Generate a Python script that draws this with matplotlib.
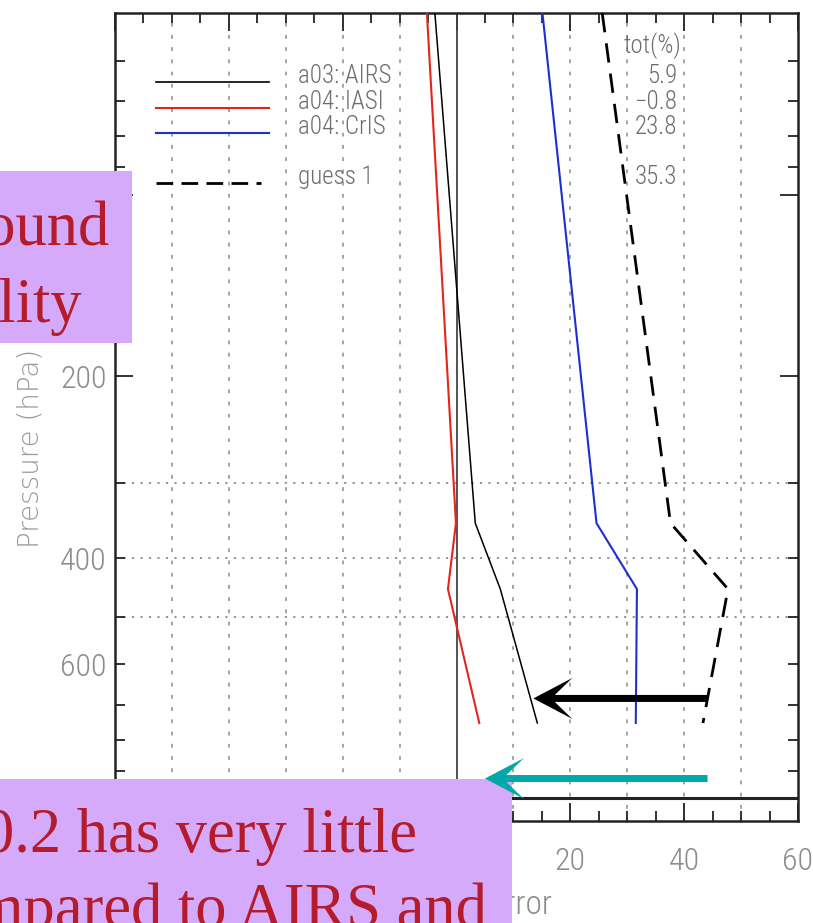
import matplotlib
matplotlib.use('Agg')
import matplotlib.pyplot as plt
from matplotlib.patches import Rectangle, FancyArrow
from matplotlib.transforms import IdentityTransform

# niveles de presion (hPa) y cambio del error por sensor
niveles = [50, 350, 450, 750]
airs = [-3.8, 3.3, 7.7, 14.2]
iasi = [-5.2, -0.1, -1.5, 4.0]
cris = [15.1, 24.6, 31.7, 31.5]
guess = [25.6, 37.6, 47.7, 43.3]

etiquetas = ['a03: AIRS', 'a04: IASI', 'a04: CrIS', 'guess 1']
totales = ['5.9', '\u22120.8', '23.8', '35.3']
colores = ['black', '#e3261c', '#1e2fd0', 'black']

x_ticks = [-60, -40, -20, 0, 20, 40, 60]
x_grid = [-50, -40, -30, -20, -10, 10, 20, 30, 40, 50]
p_major = [100, 200, 1000]
p_minor = [60, 70, 80, 90, 300, 400, 500, 600, 700, 800, 900]
p_grid = [300, 400, 500]

GRIS = '#8c8c8c'
ROJO = '#b51c2b'
LILA = '#d5aafb'
TEAL = '#00a9a8'

plt.rcParams['font.family'] = ['Roboto Condensed', 'Roboto', 'DejaVu Sans']
plt.rcParams['font.stretch'] = 'condensed'
plt.rcParams['font.weight'] = 'light'


def flecha(fig, ax, x_ini, x_fin, p, color):
    (px0, py), (px1, _) = ax.transData.transform([(x_ini, p), (x_fin, p)])
    fig.add_artist(FancyArrow(px0, py, px1 - px0, 0, width=7, head_width=41,
                              head_length=39, overhang=0.45, length_includes_head=True,
                              color=color, lw=0, transform=IdentityTransform(), zorder=20))


def main():
    fig = plt.figure(figsize=(8.13, 9.23), dpi=100)
    ax = fig.add_axes([115/813, 1 - 821/923, 683/813, 808/923])
    ax.set_yscale('log')
    ax.set_xlim(-60, 60)
    ax.set_ylim(1090, 50)

    # rejilla punteada
    for g in x_grid:
        ax.axvline(g, color=GRIS, lw=1.1, ls=(0, (2.5, 5.5)), zorder=1)
    for g in p_grid:
        ax.axhline(g, color=GRIS, lw=1.3, ls=(0, (1.2, 3.5)), zorder=1)
    ax.vlines(0, 1000, 50, color='#444444', lw=1.3, zorder=2)
    ax.hlines(1000, -60, 60, color='#222222', lw=2.2, zorder=2)

    ax.plot(airs, niveles, color=colores[0], lw=1.1, zorder=3)
    ax.plot(iasi, niveles, color=colores[1], lw=1.5, zorder=3)
    ax.plot(cris, niveles, color=colores[2], lw=1.5, zorder=3)
    l, = ax.plot(guess, niveles, color=colores[3], lw=2.0, zorder=3)
    l.set_dashes([7, 4])

    # leyenda a mano con la columna de totales
    filas = [0.9146, 0.8824, 0.8515, 0.7896]
    for i, (y, txt, tot) in enumerate(zip(filas, etiquetas, totales)):
        if i < 3:
            ax.plot([0.060, 0.2255], [y, y], transform=ax.transAxes, color=colores[i],
                    lw=1.5 if i else 1.2, zorder=3)
        else:
            k, = ax.plot([0.060, 0.2138], [y, y], transform=ax.transAxes, color='black',
                         lw=2.0, zorder=3)
            k.set_dashes([6, 3])
        ax.text(0.2679, y - 0.0012, txt, transform=ax.transAxes, ha='left', va='baseline',
                fontsize=18, color='#6e6e6e')
        ax.text(0.8228, y - 0.0012, tot, transform=ax.transAxes, ha='right', va='baseline',
                fontsize=18, color='#6e6e6e')
    ax.text(0.7862, 0.9505, 'tot(%)', transform=ax.transAxes, ha='center', va='baseline',
            fontsize=18, color='#6e6e6e')

    ax.set_xticks(x_ticks)
    ax.set_xticks(range(-60, 61, 5), minor=True)
    ax.set_yticks(p_major, labels=[str(p) for p in p_major])
    ax.set_yticks(p_minor, labels=[str(p) if p in (400, 600) else '' for p in p_minor],
                  minor=True)
    ax.tick_params(which='both', direction='in', top=True, right=True,
                   color='#222222', width=1.3, labelsize=23, labelcolor=GRIS)
    ax.tick_params(which='major', length=13)
    ax.tick_params(which='minor', length=7)
    ax.tick_params(axis='x', which='both', pad=19)
    ax.tick_params(axis='y', which='both', pad=6)
    for s in ax.spines.values():
        s.set_linewidth(1.8)
        s.set_color('#222222')

    fig.text(30/813, 1 - 548/923, 'Pressure (hPa)', rotation=90, rotation_mode='anchor',
             ha='left', va='center', fontsize=20, color='#9a9a9a',
             family='DejaVu Sans', stretch='normal', weight='light')
    fig.text(552/813, 1 - 905/923, 'Change in Forecast Error', ha='right', va='center',
             fontsize=24, color=GRIS)

    flecha(fig, ax, 44.1, 13.5, 683, 'black')
    flecha(fig, ax, 44.1, 5.0, 927, TEAL)

    # cuadros de texto superpuestos
    fig.add_artist(Rectangle((0, 1 - 343/923), 132/813, 172/923, transform=fig.transFigure,
                             facecolor=LILA, edgecolor='none', zorder=10))
    fig.add_artist(Rectangle((0, 0), 512/813, 144/923, transform=fig.transFigure,
                             facecolor=LILA, edgecolor='none', zorder=10))
    serif = dict(family='Liberation Serif', color=ROJO, fontsize=45, va='baseline',
                 ha='right', zorder=11, weight='normal', stretch='normal')
    fig.text(110/813, 1 - 245/923, 'background', **serif)
    fig.text(82/813, 1 - 322/923, 'quality', **serif)
    fig.text(417/813, 1 - 852/923, '0.2 has very little', **serif)
    fig.text(487/813, 1 - 927/923, 'compared to AIRS and', **serif)

    fig.savefig('out.png', dpi=100)


if __name__ == '__main__':
    main()
